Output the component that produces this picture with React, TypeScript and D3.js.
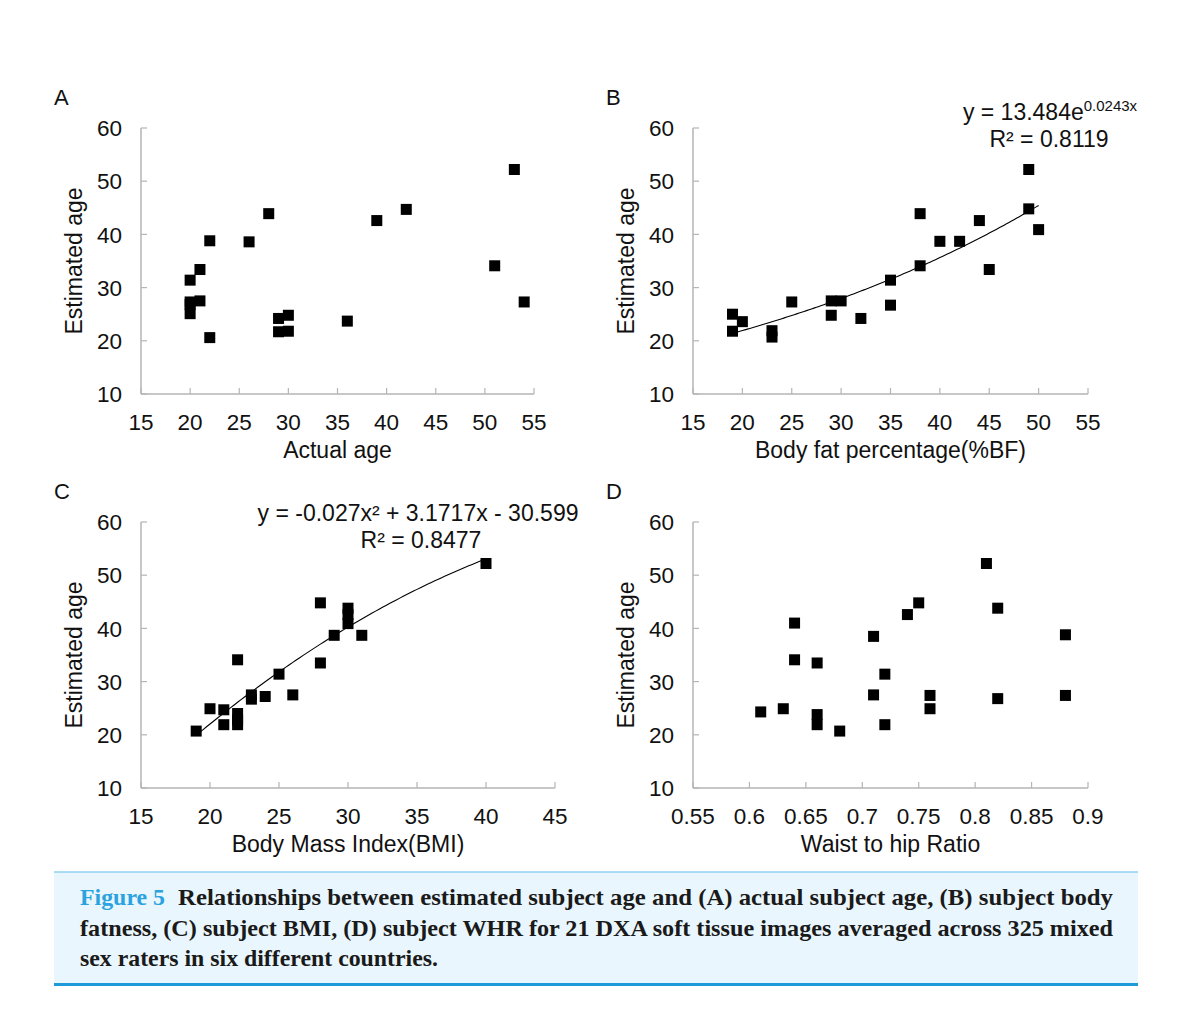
import { useEffect, useRef } from 'react';
import * as d3 from 'd3';

// Panel A: actual age vs estimated age
const actualAge = [20, 20, 20, 20, 21, 21, 22, 22, 26, 28, 29, 29, 30, 30, 36, 39, 42, 51, 53, 54];
const estAgeA = [31.4, 27.3, 26.8, 25.1, 27.5, 33.4, 38.8, 20.6, 38.6, 43.9, 24.2, 21.7, 24.8, 21.8, 23.7, 42.6, 44.7, 34.1, 52.2, 27.3];

// Panel B: body fat percentage
const bodyFat = [19, 19, 20, 23, 23, 25, 29, 29, 30, 32, 35, 35, 38, 38, 40, 42, 44, 45, 49, 49, 50];
const estAgeB = [25.0, 21.8, 23.6, 21.9, 20.7, 27.3, 27.5, 24.8, 27.5, 24.2, 31.4, 26.7, 43.9, 34.1, 38.7, 38.7, 42.6, 33.4, 52.2, 44.8, 40.9];

// Panel C: BMI
const bmi = [19, 20, 21, 21, 22, 22, 22, 22, 23, 23, 24, 25, 26, 28, 28, 29, 30, 30, 30, 31, 40];
const estAgeC = [20.7, 24.9, 24.7, 21.9, 34.1, 24.0, 22.8, 21.9, 27.5, 26.7, 27.2, 31.4, 27.5, 44.8, 33.5, 38.7, 43.8, 42.6, 40.9, 38.7, 52.2];

// Panel D: waist to hip ratio
const whr = [0.61, 0.63, 0.64, 0.64, 0.66, 0.66, 0.66, 0.68, 0.71, 0.71, 0.72, 0.72, 0.74, 0.75, 0.76, 0.76, 0.81, 0.82, 0.82, 0.88, 0.88];
const estAgeD = [24.3, 24.9, 41.0, 34.1, 33.5, 23.8, 21.9, 20.7, 38.5, 27.5, 31.4, 21.9, 42.6, 44.8, 27.4, 24.9, 52.2, 43.8, 26.8, 38.8, 27.4];

const yTicks = [10, 20, 30, 40, 50, 60];
const ageTicks = [15, 20, 25, 30, 35, 40, 45, 50, 55];
const bmiTicks = [15, 20, 25, 30, 35, 40, 45];
const whrTicks = [0.55, 0.6, 0.65, 0.7, 0.75, 0.8, 0.85, 0.9];

// trendline coefficients as printed on the chart
const expFit = { a: 13.484, b: 0.0243, from: 19, to: 50 };
const polyFit = { c2: -0.027, c1: 3.1717, c0: -30.599, from: 19, to: 40 };

const captionLines = [
  'Relationships between estimated subject age and (A) actual subject age, (B) subject body',
  'fatness, (C) subject BMI, (D) subject WHR for 21 DXA soft tissue images averaged across 325 mixed',
  'sex raters in six different countries.',
];

const SANS = '"Liberation Sans", Arial, sans-serif';
const SERIF = '"Liberation Serif", "Times New Roman", serif';

export default function App() {
  const ref = useRef<SVGSVGElement>(null);

  useEffect(() => {
    if (!ref.current) return;
    const svg = d3.select(ref.current);
    svg.selectAll('*').remove();

    const panels = [
      { letter: 'A', x0: 141, x1: 534, y0: 128, y1: 394, xs: actualAge, ys: estAgeA, ticks: ageTicks, title: 'Actual age' },
      { letter: 'B', x0: 693, x1: 1088, y0: 128, y1: 394, xs: bodyFat, ys: estAgeB, ticks: ageTicks, title: 'Body fat percentage(%BF)' },
      { letter: 'C', x0: 141, x1: 555, y0: 522, y1: 788, xs: bmi, ys: estAgeC, ticks: bmiTicks, title: 'Body Mass Index(BMI)' },
      { letter: 'D', x0: 693, x1: 1088, y0: 522, y1: 788, xs: whr, ys: estAgeD, ticks: whrTicks, title: 'Waist to hip Ratio' },
    ];

    const scales: Record<string, { x: d3.ScaleLinear<number, number>; y: d3.ScaleLinear<number, number> }> = {};

    panels.forEach(p => {
      const x = d3.scaleLinear().domain([p.ticks[0], p.ticks[p.ticks.length - 1]]).range([p.x0, p.x1]);
      const y = d3.scaleLinear().domain([10, 60]).range([p.y1, p.y0]);
      scales[p.letter] = { x, y };
      const g = svg.append('g');

      // axes (Excel style, ticks inside)
      g.append('line').attr('x1', p.x0).attr('x2', p.x0).attr('y1', p.y0).attr('y2', p.y1)
        .attr('stroke', '#b4b4b4').attr('stroke-width', 1.5);
      g.append('line').attr('x1', p.x0).attr('x2', p.x1).attr('y1', p.y1).attr('y2', p.y1)
        .attr('stroke', '#b4b4b4').attr('stroke-width', 1.5);

      yTicks.forEach(t => {
        g.append('line').attr('x1', p.x0).attr('x2', p.x0 + 6).attr('y1', y(t)).attr('y2', y(t))
          .attr('stroke', '#b4b4b4').attr('stroke-width', 1.2);
        g.append('text').attr('x', p.x0 - 19).attr('y', y(t)).attr('dy', '0.36em')
          .attr('text-anchor', 'end').attr('font-family', SANS).attr('font-size', 22.5).attr('fill', '#111')
          .text(t);
      });

      p.ticks.forEach(t => {
        g.append('line').attr('x1', x(t)).attr('x2', x(t)).attr('y1', p.y1).attr('y2', p.y1 - 6)
          .attr('stroke', '#b4b4b4').attr('stroke-width', 1.2);
        g.append('text').attr('x', x(t)).attr('y', p.y1 + 36)
          .attr('text-anchor', 'middle').attr('font-family', SANS).attr('font-size', 22.5).attr('fill', '#111')
          .text(d3.format('~g')(t));
      });

      // titles
      g.append('text').attr('x', (p.x0 + p.x1) / 2).attr('y', p.y1 + 64)
        .attr('text-anchor', 'middle').attr('font-family', SANS).attr('font-size', 23).attr('fill', '#111')
        .text(p.title);
      g.append('text').attr('transform', `translate(${p.x0 - 59},${(p.y0 + p.y1) / 2}) rotate(-90)`)
        .attr('text-anchor', 'middle').attr('font-family', SANS).attr('font-size', 23).attr('fill', '#111')
        .text('Estimated age');
      g.append('text').attr('x', p.x0 - 87).attr('y', p.y0 - 23)
        .attr('font-family', SANS).attr('font-size', 22).attr('fill', '#111')
        .text(p.letter);

      // markers
      const s = 11;
      g.selectAll('rect.pt').data(p.xs.map((v, i) => [v, p.ys[i]]))
        .enter().append('rect')
        .attr('x', d => x(d[0]) - s / 2).attr('y', d => y(d[1]) - s / 2)
        .attr('width', s).attr('height', s).attr('fill', '#000');
    });

    // trendline B: exponential
    const sb = scales.B;
    const lineB = d3.line<number>()
      .x(v => sb.x(v))
      .y(v => sb.y(expFit.a * Math.exp(expFit.b * v)));
    svg.append('path').attr('d', lineB(d3.range(expFit.from, expFit.to + 0.01, 0.25)))
      .attr('fill', 'none').attr('stroke', '#000').attr('stroke-width', 1.1);

    // trendline C: polynomial
    const sc = scales.C;
    const lineC = d3.line<number>()
      .x(v => sc.x(v))
      .y(v => sc.y(polyFit.c2 * v * v + polyFit.c1 * v + polyFit.c0));
    svg.append('path').attr('d', lineC(d3.range(polyFit.from, polyFit.to + 0.01, 0.25)))
      .attr('fill', 'none').attr('stroke', '#000').attr('stroke-width', 1.1);

    // equations
    const eqB = svg.append('text').attr('x', 1050).attr('y', 120).attr('text-anchor', 'middle')
      .attr('font-family', SANS).attr('font-size', 23).attr('fill', '#111');
    eqB.append('tspan').text('y = 13.484e');
    eqB.append('tspan').attr('font-size', 15).attr('dy', -9).text('0.0243x');
    svg.append('text').attr('x', 1049).attr('y', 147).attr('text-anchor', 'middle')
      .attr('font-family', SANS).attr('font-size', 23).attr('fill', '#111').text('R² = 0.8119');

    svg.append('text').attr('x', 418).attr('y', 521).attr('text-anchor', 'middle')
      .attr('font-family', SANS).attr('font-size', 23).attr('fill', '#111').text('y = -0.027x² + 3.1717x - 30.599');
    svg.append('text').attr('x', 421).attr('y', 548).attr('text-anchor', 'middle')
      .attr('font-family', SANS).attr('font-size', 23).attr('fill', '#111').text('R² = 0.8477');

    // caption box
    svg.append('rect').attr('x', 54).attr('y', 872).attr('width', 1084).attr('height', 112).attr('fill', '#e9f6fd');
    svg.append('line').attr('x1', 54).attr('x2', 1138).attr('y1', 872).attr('y2', 872)
      .attr('stroke', '#8fd0f0').attr('stroke-width', 1.5);
    svg.append('line').attr('x1', 54).attr('x2', 1138).attr('y1', 984.5).attr('y2', 984.5)
      .attr('stroke', '#1f9ad8').attr('stroke-width', 3);

    svg.append('text').attr('x', 80).attr('y', 905).attr('font-family', SERIF).attr('font-weight', 'bold')
      .attr('font-size', 23.5).attr('fill', '#2aa3e0')
      .attr('textLength', 85).attr('lengthAdjust', 'spacingAndGlyphs').text('Figure 5');
    const lineWidths = [[178, 935], [80, 1033], [80, 358]];
    captionLines.forEach((t, i) => {
      svg.append('text').attr('x', lineWidths[i][0]).attr('y', 905 + i * 30.5)
        .attr('font-family', SERIF).attr('font-weight', 'bold').attr('font-size', 23.5).attr('fill', '#1a1a1a')
        .attr('textLength', lineWidths[i][1]).attr('lengthAdjust', 'spacingAndGlyphs')
        .text(t);
    });
  }, []);

  return (
    <svg ref={ref} width={1200} height={1021} viewBox="0 0 1200 1021"
      style={{ position: 'absolute', left: 0, top: 0, background: '#fff' }} />
  );
}
